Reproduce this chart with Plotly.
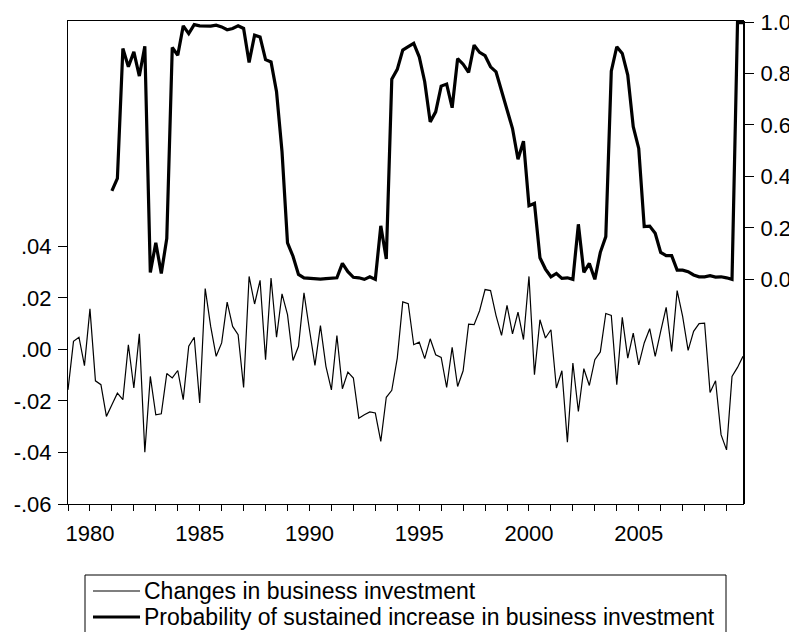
import plotly.graph_objects as go
import pandas as pd

# quarterly sample 1979Q1 - 2009Q4
quarters = pd.period_range("1979Q1", "2009Q4", freq="Q")
t = [p.year + (p.quarter - 1) / 4 for p in quarters]

invest_change = [
    -0.0157, 0.0031, 0.0047, -0.0063, 0.0157, -0.0122, -0.0137, -0.0260,
    -0.0215, -0.0170, -0.0195, 0.0018, -0.0150, 0.0060, -0.0399, -0.0105,
    -0.0254, -0.0250, -0.0094, -0.0111, -0.0082, -0.0195, 0.0012, 0.0047,
    -0.0208, 0.0236, 0.0089, -0.0027, 0.0025, 0.0183, 0.0089, 0.0057,
    -0.0148, 0.0283, 0.0176, 0.0268, -0.0040, 0.0277, 0.0047, 0.0215,
    0.0135, -0.0043, 0.0012, 0.0219, 0.0076, -0.0062, 0.0092, -0.0066,
    -0.0157, 0.0054, -0.0153, -0.0088, -0.0111, -0.0267, -0.0254, -0.0243,
    -0.0247, -0.0357, -0.0186, -0.0159, -0.0034, 0.0184, 0.0177, 0.0018,
    0.0028, -0.0036, 0.0041, -0.0021, -0.0031, -0.0148, 0.0008, -0.0144,
    -0.0083, 0.0098, 0.0096, 0.0150, 0.0232, 0.0228, 0.0131, 0.0054,
    0.0171, 0.0060, 0.0144, 0.0038, 0.0283, -0.0098, 0.0115, 0.0044,
    0.0076, -0.0150, -0.0083, -0.0360, -0.0053, -0.0241, -0.0075, -0.0140,
    -0.0040, -0.0010, 0.0139, 0.0132, -0.0137, 0.0124, -0.0034, 0.0063,
    -0.0060, 0.0025, 0.0080, -0.0027, 0.0070, 0.0163, -0.0008, 0.0228,
    0.0128, -0.0004, 0.0070, 0.0100, 0.0102, -0.0167, -0.0122, -0.0331,
    -0.0390, -0.0105, -0.0070, -0.0027,
]

# starts 1981Q1
prob_increase = [
    0.344, 0.392, 0.897, 0.826, 0.884, 0.790, 0.906, 0.027,
    0.142, 0.023, 0.159, 0.901, 0.871, 0.985, 0.955, 0.990,
    0.985, 0.984, 0.984, 0.988, 0.981, 0.970, 0.975, 0.985,
    0.975, 0.843, 0.949, 0.942, 0.854, 0.845, 0.729, 0.496,
    0.142, 0.090, 0.019, 0.006, 0.004, 0.004, 0.001, 0.003,
    0.004, 0.006, 0.062, 0.030, 0.008, 0.006, 0.000, 0.010,
    0.000, 0.208, 0.079, 0.778, 0.816, 0.891, 0.904, 0.917,
    0.865, 0.768, 0.612, 0.651, 0.751, 0.759, 0.667, 0.858,
    0.836, 0.804, 0.910, 0.882, 0.869, 0.826, 0.806, 0.735,
    0.664, 0.586, 0.467, 0.537, 0.286, 0.295, 0.084, 0.040,
    0.010, 0.023, 0.004, 0.006, 0.000, 0.214, 0.027, 0.062,
    0.000, 0.105, 0.166, 0.809, 0.904, 0.878, 0.794, 0.593,
    0.509, 0.205, 0.207, 0.179, 0.105, 0.092, 0.092, 0.036,
    0.036, 0.030, 0.017, 0.010, 0.010, 0.014, 0.009, 0.010,
    0.006, 0.000, 0.998, 0.998,
]

series_names = [
    "Changes in business investment",
    "Probability of sustained increase in business investment",
]
left_ticks = [0.04, 0.02, 0.0, -0.02, -0.04, -0.06]
left_labels = [".04", ".02", ".00", "-.02", "-.04", "-.06"]
right_ticks = [0.0, 0.2, 0.4, 0.6, 0.8, 1.0]
year_ticks = [1980, 1985, 1990, 1995, 2000, 2005]

FONT = "Arial, Liberation Sans, sans-serif"
W, H = 797, 632
M = dict(l=60, r=62, t=13, b=136)
PW, PH = W - M["l"] - M["r"], H - M["t"] - M["b"]


def px(x):
    return (x - M["l"]) / PW


def py(y):
    return (H - M["b"] - y) / PH


fig = go.Figure()
fig.add_trace(go.Scatter(
    x=t, y=invest_change, mode="lines",
    line=dict(color="black", width=1.2),
    name=series_names[0],
))
fig.add_trace(go.Scatter(
    x=t[len(t) - len(prob_increase):], y=prob_increase, mode="lines",
    line=dict(color="black", width=3.2),
    name=series_names[1],
    yaxis="y2",
))

# legend box drawn by hand (EViews style, tight row spacing)
fig.add_shape(type="rect", xref="paper", yref="paper",
              x0=px(77), x1=px(718), y0=py(567), y1=py(650),
              line=dict(color="black", width=1), fillcolor="white", layer="above")
for k, (name, lw) in enumerate(zip(series_names, [1.2, 3.2])):
    yy = py(583 + 26 * k)
    fig.add_shape(type="line", xref="paper", yref="paper",
                  x0=px(85), x1=px(132), y0=yy, y1=yy,
                  line=dict(color="black", width=lw))
    fig.add_annotation(x=px(134), y=yy, xref="paper", yref="paper",
                       text=name, showarrow=False, xanchor="left", yanchor="middle",
                       font=dict(size=23))

fig.update_layout(
    width=W, height=H,
    margin=dict(**M, autoexpand=False),
    paper_bgcolor="white", plot_bgcolor="white",
    font=dict(family=FONT, size=22, color="black"),
    showlegend=False,
    xaxis=dict(
        range=[1979, 2009.75], tickvals=year_ticks,
        ticks="outside", ticklen=6, tickcolor="black", ticklabelstandoff=4,
        minor=dict(dtick=1, tick0=1979, ticks="outside", ticklen=6, tickcolor="black"),
        showline=True, linecolor="black", linewidth=1, mirror=True,
        showgrid=False, zeroline=False, automargin=False,
    ),
    yaxis=dict(
        range=[-0.06, 0.1274], tickvals=left_ticks, ticktext=left_labels,
        ticks="outside", ticklen=9, tickcolor="black", ticklabelstandoff=2,
        showline=True, linecolor="black", linewidth=1, mirror=True,
        showgrid=False, zeroline=False, automargin=False,
    ),
    yaxis2=dict(
        range=[-0.873, 1.004], overlaying="y", side="right",
        tickvals=right_ticks, tickformat=".1f",
        ticks="outside", ticklen=9, tickcolor="black", ticklabelstandoff=2,
        showline=True, linecolor="black", linewidth=2,
        showgrid=False, zeroline=False, automargin=False,
    ),
)

fig.write_html("out.html")
